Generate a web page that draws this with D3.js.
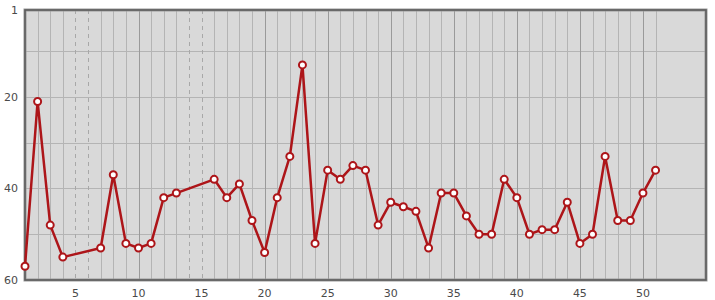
<!DOCTYPE html>
<html>
<head>
<meta charset="utf-8">
<script src="https://cdn.jsdelivr.net/npm/d3@7"></script>
<style>
  body { margin: 0; background: #fff; }
  text { font-family: "DejaVu Sans", Verdana, sans-serif; font-size: 11px; fill: #4a4a4a; }
</style>
</head>
<body>
<div class="chart"></div>
<script>
// round number -> position (null = no entry that round)
const rounds = d3.range(1, 52)
const ranks = [57, 21, 48, 55, null, null, 53, 37, 52, 53,
               52, 42, 41, null, null, 38, 42, 39, 47, 54,
               42, 33, 13, 52, 36, 38, 35, 36, 48, 43,
               44, 45, 53, 41, 41, 46, 50, 50, 38, 42,
               50, 49, 49, 43, 52, 50, 33, 47, 47, 41,
               36]
const xTicks = [5, 10, 15, 20, 25, 30, 35, 40, 45, 50]
const yTicks = [1, 20, 40, 60]
const yGrid = [10, 20, 30, 40, 50]

const W = 715, H = 300
const pLeft = 25, pRight = 706, pTop = 10, pBottom = 280

let svg = d3.select('div.chart').append('svg').attr('width', W).attr('height', H)

let x = d3.scaleLinear().domain([1, 55]).range([pLeft, pRight])
let y = d3.scaleLinear().domain([1, 60]).range([pTop, pBottom])

let data = rounds.map((r, i) => ({ r: r, v: ranks[i] }))
let present = data.filter(d => d.v != null)

//background
svg.append('rect')
  .attr('x', pLeft).attr('y', pTop)
  .attr('width', pRight - pLeft).attr('height', pBottom - pTop)
  .attr('fill', '#d9d9d9')

//horizontal grid
svg.append('g').selectAll('line')
  .data(yGrid).enter().append('line')
  .attr('x1', pLeft).attr('x2', pRight)
  .attr('y1', d => Math.round(y(d)) + 0.5).attr('y2', d => Math.round(y(d)) + 0.5)
  .attr('stroke', '#b4b4b4')

//vertical grid
svg.append('g').selectAll('line')
  .data(data.filter(d => d.r > 1)).enter().append('line')
  .attr('x1', d => Math.round(x(d.r)) + 0.5).attr('x2', d => Math.round(x(d.r)) + 0.5)
  .attr('y1', pTop).attr('y2', pBottom)
  .attr('stroke', d => d.v == null ? '#a8a8a8' : (d.r % 5 == 0 ? '#9a9a9a' : '#b4b4b4'))
  .attr('stroke-dasharray', d => d.v == null ? '4,4' : null)

//frame
svg.append('rect')
  .attr('x', pLeft).attr('y', pTop)
  .attr('width', pRight - pLeft).attr('height', pBottom - pTop)
  .attr('fill', 'none').attr('stroke', '#999').attr('stroke-width', 3)
svg.append('rect')
  .attr('x', pLeft).attr('y', pTop)
  .attr('width', pRight - pLeft).attr('height', pBottom - pTop)
  .attr('fill', 'none').attr('stroke', '#5a5a5a').attr('stroke-width', 1.5)

//axes labels
svg.append('g').selectAll('text')
  .data(xTicks).enter().append('text')
  .attr('x', d => x(d)).attr('y', pBottom + 17)
  .attr('text-anchor', 'middle')
  .text(d => d)

svg.append('g').selectAll('text')
  .data(yTicks).enter().append('text')
  .attr('x', pLeft - 7).attr('y', d => y(d) + 4)
  .attr('text-anchor', 'end')
  .text(d => d)

//line
let line = d3.line().x(d => x(d.r)).y(d => y(d.v))
svg.append('path')
  .datum(present)
  .attr('d', line)
  .attr('fill', 'none')
  .attr('stroke', '#ad1519')
  .attr('stroke-width', 2.5)
  .attr('stroke-linejoin', 'round')

//points
svg.append('g').selectAll('circle')
  .data(present).enter().append('circle')
  .attr('cx', d => x(d.r)).attr('cy', d => y(d.v))
  .attr('r', 3.5)
  .attr('fill', '#fff')
  .attr('stroke', '#ad1519')
  .attr('stroke-width', 2)
</script>
</body>
</html>
